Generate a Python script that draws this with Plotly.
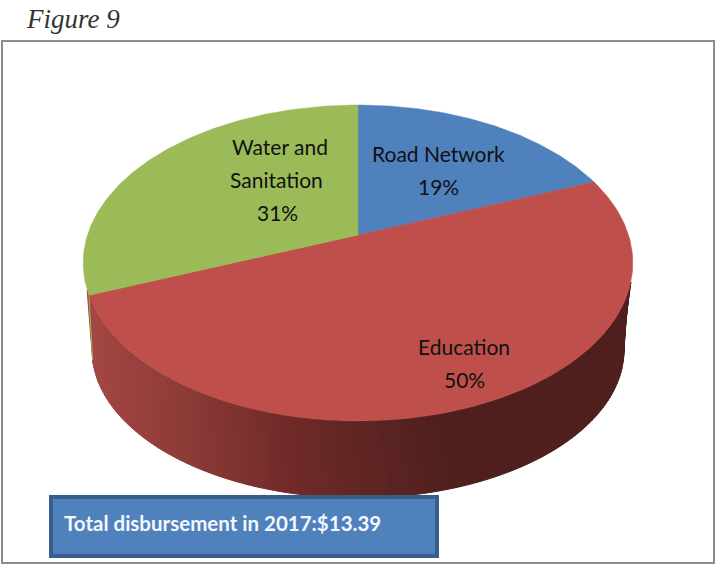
import numpy as np
import plotly.graph_objects as go

# Disbursement shares, clockwise from twelve o'clock
sectors = ["Road Network", "Education", "Water and Sanitation"]
shares = [19, 50, 31]
face_colors = ["#4F81BD", "#BE4F4B", "#9BBB59"]
label_lines = [["Road Network", "19%"], ["Education", "50%"], ["Water and", "Sanitation", "31%"]]
label_centres = [[(438, 153), (438, 186)], [(464, 346), (464, 379)],
                 [(280, 146), (276, 179), (277, 212)]]
caption = "Figure 9"
callout = "Total disbursement in 2017:$13.39"

# Perspective of the pie's top face, in page pixels
APEX_X, APEX_Y = 358, 235
HALF_W, DEPTH_A, TILT = 270.5, 153.0, 0.177
LABEL_FONT = "Lato, Liberation Sans, sans-serif"


def rim(theta_deg):
    t = np.radians(theta_deg)
    scale = 1 + TILT * np.cos(t)
    return APEX_X + HALF_W * np.sin(t) / scale, APEX_Y - DEPTH_A * np.cos(t) / scale


def ellipse(phi_deg, cy, rx, ry):
    p = np.radians(phi_deg)
    return APEX_X + rx * np.cos(p), cy + ry * np.sin(p)


# Side wall shade runs from lit on the left to dark on the right
SHADE_X = [93, 190, 290, 380, 450, 640]
SHADE_RGB = np.array([[163, 70, 67], [140, 58, 54], [112, 42, 40],
                      [92, 36, 34], [78, 31, 29], [78, 31, 29]])


def shade(x):
    r, g, b = (np.interp(x, SHADE_X, SHADE_RGB[:, i]) for i in range(3))
    return f"rgb({r:.0f},{g:.0f},{b:.0f})"


fig = go.Figure()

# Side wall, drawn as narrow vertical strips
upper_phi = np.linspace(170, 7, 131)
lower_phi = np.linspace(176, -5, 131)
for i in range(len(upper_phi) - 1):
    ux, uy = ellipse(upper_phi[i:i + 2], 263, 275, 158)
    lx, ly = ellipse(lower_phi[i:i + 2], 350, 266, 148)
    xs = [ux[0], ux[1], lx[1], lx[0], ux[0]]
    ys = [uy[0], uy[1], ly[1], ly[0], uy[0]]
    col = shade(np.mean(xs[:4]))
    fig.add_trace(go.Scatter(x=xs, y=ys, mode="lines", fill="toself", fillcolor=col,
                             line=dict(color=col, width=1), hoverinfo="skip", showlegend=False))

# Sliver of the green wall at the far left
edge_x, edge_y = rim(360 - 3.6 * shares[2])
wall_x, wall_y = ellipse(176, 350, 266, 148)
fig.add_trace(go.Scatter(x=[edge_x, wall_x], y=[edge_y, wall_y], mode="lines",
                         line=dict(color=face_colors[2], width=1),
                         hoverinfo="skip", showlegend=False))

# Top face wedges
start = 0.0
for name, share, col in zip(sectors, shares, face_colors):
    theta = np.linspace(start, start + 3.6 * share, 160)
    rx_, ry_ = rim(theta)
    fig.add_trace(go.Scatter(x=[APEX_X, *rx_, APEX_X], y=[APEX_Y, *ry_, APEX_Y],
                             mode="lines", fill="toself", fillcolor=col,
                             line=dict(color=col, width=0.5), name=name,
                             hoverinfo="skip", showlegend=False))
    start += 3.6 * share

annotations = [dict(x=24, y=19, text=f"<i>{caption}</i>", showarrow=False, xanchor="left",
                    yanchor="middle", font=dict(family="Liberation Serif", size=27, color="#333333")),
               dict(x=62, y=523, text=f"<b>{callout}</b>", showarrow=False, xanchor="left",
                    yanchor="middle", font=dict(family=LABEL_FONT, size=20.5, color="#F4F8FC"))]
for lines, centres in zip(label_lines, label_centres):
    for text, (cx, cy) in zip(lines, centres):
        annotations.append(dict(x=cx, y=cy, text=text, showarrow=False, xanchor="center",
                                yanchor="middle", font=dict(family=LABEL_FONT, size=21, color="#111111")))

shapes = [
    dict(type="rect", x0=2, y0=41, x1=714, y1=563, layer="below", line=dict(color="#8C8C8C", width=2)),
    dict(type="rect", x0=51, y0=497, x1=437, y1=556, layer="above",
         fillcolor="#4F81BD", line=dict(color="#385D8A", width=4)),
]

fig.update_layout(
    width=716, height=565, margin=dict(l=0, r=0, t=0, b=0),
    paper_bgcolor="white", plot_bgcolor="white", showlegend=False,
    xaxis=dict(range=[0, 716], visible=False, fixedrange=True),
    yaxis=dict(range=[565, 0], visible=False, fixedrange=True),
    shapes=shapes, annotations=annotations,
)

fig.write_html("out.html", config=dict(displayModeBar=False))
